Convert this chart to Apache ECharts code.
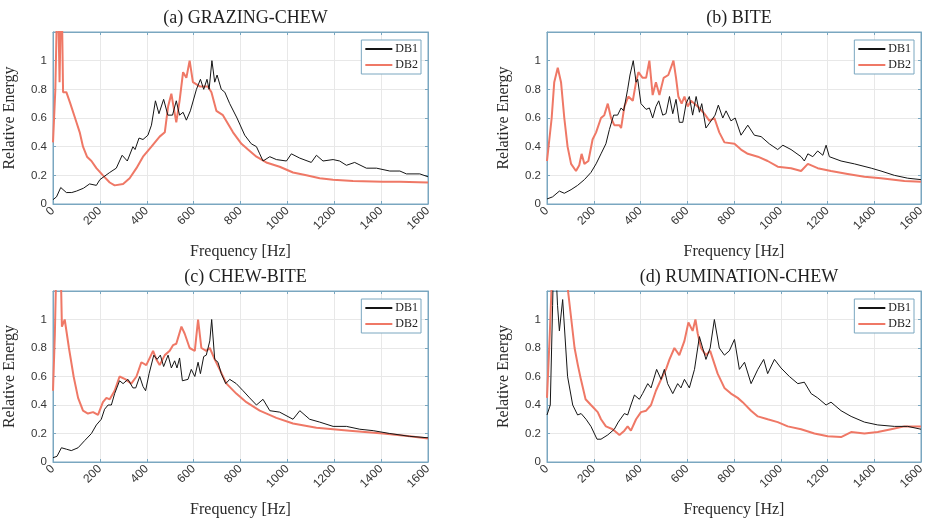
<!DOCTYPE html>
<html>
<head>
<meta charset="utf-8">
<script src="https://cdn.jsdelivr.net/npm/echarts@6/dist/echarts.min.js"></script>
<style>html,body{margin:0;padding:0;background:#fff;}#c{width:928px;height:519px;}</style>
</head>
<body>
<div id="c"></div>
<script>
// ---- Data (frequency in Hz, relative energy) ----
const panelTitles = ['(a) GRAZING-CHEW', '(b) BITE', '(c) CHEW-BITE', '(d) RUMINATION-CHEW'];
const seriesNames = ['DB1', 'DB2'];
const xTicks = [0, 200, 400, 600, 800, 1000, 1200, 1400, 1600];
const yTicks = [0, 0.2, 0.4, 0.6, 0.8, 1];

// (a) GRAZING-CHEW
const aDb1Freq = [0,15,33,57,80,100,130,156,185,200,242,270,295,317,341,350,367,384,405,420,437,452,472,490,510,526,540,555,569,586,612,629,643,657,666,678,690,700,718,733,754,785,818,846,868,882,896,925,953,996,1017,1053,1102,1124,1152,1195,1223,1252,1287,1337,1380,1437,1480,1508,1565,1600];
const aDb1Energy = [0.03,0.05,0.115,0.08,0.08,0.09,0.11,0.14,0.13,0.17,0.22,0.25,0.34,0.30,0.40,0.38,0.46,0.45,0.48,0.55,0.72,0.63,0.73,0.62,0.62,0.72,0.62,0.64,0.585,0.65,0.80,0.87,0.80,0.87,0.80,1.0,0.85,0.90,0.80,0.78,0.70,0.60,0.48,0.42,0.40,0.35,0.30,0.33,0.31,0.30,0.35,0.32,0.29,0.34,0.30,0.31,0.30,0.27,0.29,0.25,0.25,0.23,0.23,0.21,0.21,0.19];
const aDb2Freq = [0,10,20,28,36,43,57,74,100,114,128,145,164,185,213,242,263,299,327,356,384,420,455,477,491,505,512,526,540,555,569,583,597,626,661,676,697,725,768,804,832,868,910,967,1024,1081,1138,1195,1280,1408,1480,1600];
const aDb2Energy = [0.43,0.80,1.6,0.85,1.6,0.78,0.78,0.70,0.57,0.50,0.40,0.33,0.30,0.25,0.20,0.15,0.13,0.14,0.18,0.25,0.33,0.40,0.47,0.50,0.68,0.77,0.70,0.57,0.72,0.92,0.88,1.0,0.85,0.82,0.82,0.78,0.65,0.62,0.50,0.42,0.38,0.33,0.29,0.26,0.22,0.20,0.18,0.17,0.16,0.155,0.155,0.15];

// (b) BITE
const bDb1Freq = [0,24,53,74,103,131,160,188,210,231,252,267,285,302,317,328,345,355,369,381,388,402,424,438,452,466,478,495,509,524,538,552,566,581,595,609,623,638,652,662,680,702,719,733,752,766,787,805,830,859,887,916,951,987,1009,1044,1087,1101,1116,1137,1158,1180,1194,1208,1258,1315,1387,1429,1486,1543,1600];
const bDb1Energy = [0.035,0.05,0.09,0.075,0.10,0.13,0.17,0.22,0.28,0.35,0.42,0.52,0.62,0.62,0.67,0.65,0.80,0.90,1.0,0.85,0.87,0.70,0.66,0.67,0.60,0.68,0.72,0.62,0.63,0.75,0.63,0.73,0.57,0.57,0.70,0.75,0.62,0.75,0.64,0.70,0.53,0.58,0.62,0.69,0.60,0.65,0.58,0.60,0.48,0.55,0.48,0.47,0.42,0.38,0.41,0.38,0.33,0.30,0.35,0.33,0.37,0.34,0.41,0.33,0.30,0.28,0.25,0.23,0.20,0.18,0.17];
const bDb2Freq = [0,20,31,46,60,74,88,103,124,138,148,160,177,195,210,231,245,260,274,288,310,317,331,348,367,381,391,409,424,438,452,466,481,499,519,541,552,562,576,588,602,616,645,673,695,716,737,759,802,830,859,902,944,987,1044,1087,1116,1158,1215,1286,1358,1429,1529,1600];
const bDb2Energy = [0.30,0.60,0.85,0.95,0.85,0.60,0.40,0.28,0.23,0.27,0.35,0.28,0.30,0.45,0.50,0.60,0.62,0.70,0.60,0.55,0.55,0.53,0.68,0.75,0.72,0.85,0.92,0.88,0.88,1.0,0.76,0.85,0.76,0.88,0.90,1.0,0.88,0.75,0.70,0.75,0.68,0.72,0.68,0.63,0.58,0.60,0.50,0.43,0.42,0.38,0.35,0.33,0.30,0.26,0.25,0.23,0.28,0.25,0.23,0.21,0.19,0.18,0.16,0.155];

// (c) CHEW-BITE
const cDb1Freq = [0,17,36,57,78,107,135,164,185,206,220,235,249,263,284,299,320,341,353,370,384,395,410,430,444,458,472,491,505,519,529,540,552,576,590,605,619,629,643,654,669,677,690,704,718,737,754,782,811,839,868,896,925,967,1024,1053,1095,1138,1195,1252,1309,1366,1437,1522,1600];
const cDb1Energy = [0.03,0.04,0.10,0.09,0.08,0.10,0.15,0.20,0.26,0.30,0.37,0.40,0.40,0.48,0.57,0.55,0.58,0.52,0.52,0.60,0.53,0.50,0.62,0.75,0.72,0.75,0.67,0.75,0.66,0.71,0.66,0.73,0.57,0.58,0.65,0.60,0.70,0.62,0.74,0.75,0.85,1.0,0.72,0.70,0.62,0.55,0.58,0.55,0.50,0.45,0.40,0.44,0.36,0.35,0.30,0.36,0.30,0.28,0.25,0.25,0.23,0.22,0.20,0.18,0.17];
const cDb2Freq = [0,8,17,30,38,50,68,88,107,128,149,171,192,213,228,242,263,284,310,334,356,377,398,427,441,455,477,498,512,526,548,562,583,605,619,633,654,669,690,711,740,782,825,882,953,1024,1124,1266,1408,1522,1600];
const cDb2Energy = [0.50,0.9,1.6,1.6,0.95,1.0,0.80,0.60,0.45,0.36,0.34,0.35,0.33,0.42,0.45,0.44,0.50,0.60,0.58,0.55,0.60,0.70,0.68,0.78,0.72,0.68,0.75,0.78,0.82,0.83,0.95,0.90,0.80,0.78,1.0,0.80,0.78,0.80,0.72,0.65,0.55,0.48,0.42,0.36,0.31,0.27,0.24,0.22,0.20,0.18,0.165];

// (d) RUMINATION-CHEW
const dDb1Freq = [0,14,24,31,38,45,53,67,88,110,131,146,167,188,214,231,260,288,305,331,345,359,374,395,409,431,445,469,488,502,516,538,559,573,588,609,631,652,666,680,698,716,737,759,780,802,823,845,873,902,927,944,973,1001,1037,1073,1101,1130,1158,1194,1215,1258,1301,1358,1415,1486,1543,1600];
const dDb1Energy = [0.33,0.40,1.1,1.6,1.6,1.1,0.92,1.14,0.60,0.40,0.33,0.34,0.30,0.25,0.16,0.16,0.19,0.23,0.28,0.34,0.33,0.40,0.47,0.44,0.48,0.55,0.52,0.65,0.58,0.65,0.55,0.48,0.55,0.52,0.58,0.52,0.65,0.88,0.80,0.72,0.80,1.0,0.80,0.75,0.78,0.86,0.65,0.70,0.55,0.65,0.72,0.62,0.72,0.66,0.60,0.55,0.56,0.48,0.45,0.40,0.42,0.36,0.32,0.28,0.26,0.25,0.25,0.23];
const dDb2Freq = [0,12,28,50,70,90,104,118,132,145,165,188,217,231,252,281,310,331,345,359,381,402,424,445,466,488,509,524,545,566,588,605,623,635,645,659,680,698,730,759,787,816,837,873,902,944,987,1030,1087,1144,1201,1258,1301,1358,1415,1472,1529,1600];
const dDb2Energy = [0.45,0.9,1.6,1.6,1.6,1.2,1.0,0.80,0.68,0.58,0.44,0.40,0.35,0.30,0.25,0.23,0.19,0.22,0.25,0.22,0.30,0.35,0.36,0.40,0.50,0.58,0.65,0.72,0.80,0.75,0.85,0.98,0.92,1.0,0.90,0.80,0.75,0.78,0.62,0.52,0.48,0.45,0.42,0.36,0.32,0.30,0.28,0.25,0.23,0.20,0.18,0.175,0.21,0.20,0.21,0.23,0.25,0.25];

const panelData = [
  [[aDb1Freq, aDb1Energy], [aDb2Freq, aDb2Energy]],
  [[bDb1Freq, bDb1Energy], [bDb2Freq, bDb2Energy]],
  [[cDb1Freq, cDb1Energy], [cDb2Freq, cDb2Energy]],
  [[dDb1Freq, dDb1Energy], [dDb2Freq, dDb2Energy]]
];

// ---- Layout / style ----
const grids = [
  {left: 53, top: 32, width: 375, height: 172},
  {left: 547, top: 32, width: 374, height: 172},
  {left: 53, top: 291, width: 375, height: 172},
  {left: 547, top: 291, width: 374, height: 172}
];
const serif = '"Liberation Serif", "Times New Roman", serif';
const sans = '"Liberation Sans", Arial, sans-serif';
const axisColor = '#7aa7c0';
const textColor = '#363636';
const gridLineColor = '#e8e8e8';
const lineColors = ['#151515', '#ef7866'];
const lineWidths = [1, 2];

function pairs(fs, es) {
  const out = [];
  for (let i = 0; i < Math.min(fs.length, es.length); i++) out.push([fs[i], es[i]]);
  return out;
}

const option = {
  animation: false,
  backgroundColor: '#fff',
  title: [], grid: [], xAxis: [], yAxis: [], series: [], legend: []
};

grids.forEach((g, i) => {
  option.grid.push(Object.assign({show: true, borderColor: axisColor, borderWidth: 1, backgroundColor: '#fff'}, g));
  option.title.push({
    text: panelTitles[i],
    left: g.left + g.width / 2, top: g.top - 28, textAlign: 'center',
    textStyle: {fontFamily: serif, fontSize: 18, fontWeight: 'normal', color: '#1f1f1f'}
  });
  const xBase = {
    type: 'value', gridIndex: i, min: xTicks[0], max: xTicks[xTicks.length - 1], interval: 200,
    axisLine: {show: true, onZero: false, lineStyle: {color: axisColor, width: 1}},
    axisTick: {show: true, inside: true, length: 3, lineStyle: {color: axisColor}},
    splitLine: {show: false}
  };
  option.xAxis.push(Object.assign({}, xBase, {
    position: 'bottom',
    name: 'Frequency [Hz]', nameLocation: 'middle', nameGap: 40,
    nameTextStyle: {fontFamily: serif, fontSize: 16, color: '#2a2a2a'},
    axisLabel: {show: true, rotate: 45, fontFamily: sans, fontSize: 12, color: textColor, margin: 5,
      formatter: v => String(v)},
    splitLine: {show: true, lineStyle: {color: gridLineColor, width: 1}}
  }));
  option.xAxis.push(Object.assign({}, xBase, {position: 'top', axisLabel: {show: false}}));
  const yBase = {
    type: 'value', gridIndex: i, min: 0, max: 1.2, interval: 0.2,
    axisLine: {show: true, onZero: false, lineStyle: {color: axisColor, width: 1}},
    axisTick: {show: true, inside: true, length: 3, lineStyle: {color: axisColor}},
    splitLine: {show: false}
  };
  option.yAxis.push(Object.assign({}, yBase, {
    position: 'left',
    name: 'Relative Energy', nameLocation: 'middle', nameGap: 35,
    nameTextStyle: {fontFamily: serif, fontSize: 16, color: '#2a2a2a'},
    axisLabel: {show: true, fontFamily: sans, fontSize: 11.5, color: textColor, margin: 6,
      formatter: v => (v > 1.05 ? '' : String(+v.toFixed(1)))},
    splitLine: {show: true, lineStyle: {color: gridLineColor, width: 1}}
  }));
  option.yAxis.push(Object.assign({}, yBase, {position: 'right', axisLabel: {show: false}}));

  panelData[i].forEach((d, k) => {
    option.series.push({
      name: seriesNames[k], type: 'line',
      xAxisIndex: i * 2, yAxisIndex: i * 2,
      data: pairs(d[0], d[1]),
      showSymbol: false, symbol: 'none', smooth: false, clip: true,
      lineStyle: {color: lineColors[k], width: lineWidths[k]},
      itemStyle: {color: lineColors[k]},
      z: k === 0 ? 3 : 2
    });
  });

  option.legend.push({
    data: seriesNames.map((n, k) => ({name: n, icon: 'rect', itemStyle: {color: lineColors[k]}})),
    orient: 'vertical',
    right: 928 - (g.left + g.width) + 7,
    top: g.top + 8,
    itemWidth: 27, itemHeight: 2,
    itemGap: 4,
    padding: [3, 3, 3, 4],
    borderColor: axisColor, borderWidth: 1, backgroundColor: '#fff',
    selectedMode: false,
    textStyle: {fontFamily: serif, fontSize: 12, color: '#222', padding: [0, 0, 0, -2]}
  });
});

const chart = echarts.init(document.getElementById('c'), null, {renderer: 'canvas'});
chart.setOption(option);
</script>
</body>
</html>
